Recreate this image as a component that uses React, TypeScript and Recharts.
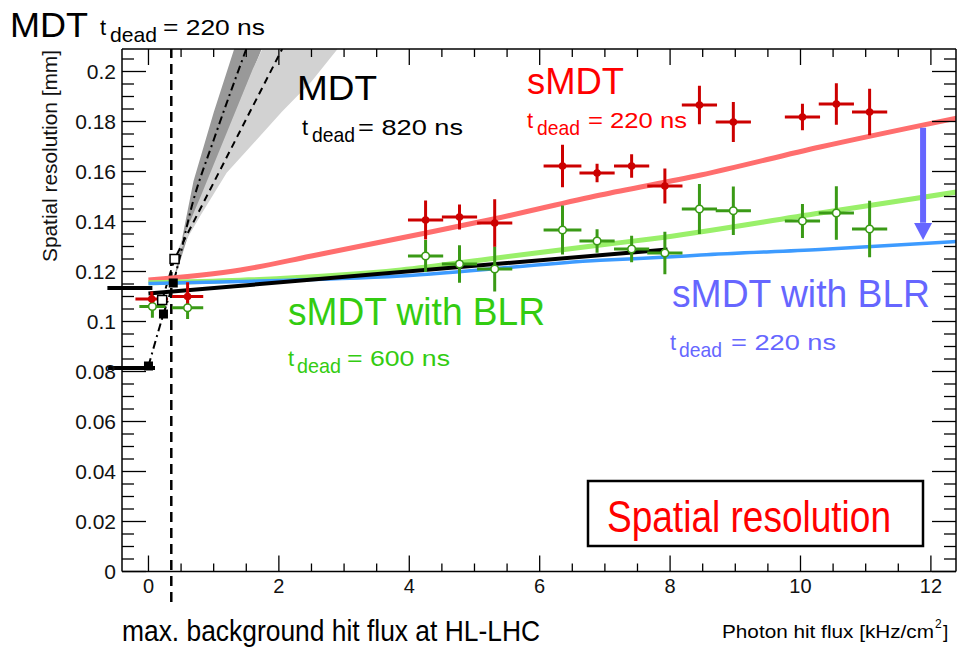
import React from "react";
import {
  ComposedChart,
  XAxis,
  YAxis,
  Line,
  Area,
  Scatter,
  ErrorBar,
  ReferenceLine,
  ReferenceDot,
} from "recharts";

const FONT = "'Liberation Sans', Arial, Helvetica, sans-serif";

// axis ticks
const xTicks = [0, 0.5, 1, 1.5, 2, 2.5, 3, 3.5, 4, 4.5, 5, 5.5, 6, 6.5, 7, 7.5, 8, 8.5, 9, 9.5, 10, 10.5, 11, 11.5, 12];
const xMajorTicks = [0, 2, 4, 6, 8, 10, 12];
const yMajorTicks = [0, 0.02, 0.04, 0.06, 0.08, 0.1, 0.12, 0.14, 0.16, 0.18, 0.2];
const yTicks = yMajorTicks.flatMap((v) => [v, v + 0.005, v + 0.01, v + 0.015]).filter((v) => v < 0.209);

// sMDT (t_dead = 220 ns) measurements
const smdtX = [0.05, 0.6, 4.25, 4.77, 5.31, 6.35, 6.88, 7.41, 7.92, 8.45, 8.97, 10.03, 10.55, 11.06];
const smdtY = [0.109, 0.11, 0.1406, 0.1418, 0.1394, 0.1622, 0.1594, 0.1622, 0.1542, 0.1866, 0.1798, 0.1818, 0.187, 0.1838];
const smdtEx = [0.25, 0.24, 0.27, 0.27, 0.27, 0.29, 0.27, 0.27, 0.27, 0.27, 0.27, 0.27, 0.27, 0.27];
const smdtEy = [0.003, 0.0057, 0.0078, 0.005, 0.0095, 0.0085, 0.0037, 0.0047, 0.007, 0.0077, 0.008, 0.0053, 0.0083, 0.0093];

// sMDT with BLR (t_dead = 600 ns) measurements
const blrX = [0.06, 0.6, 4.25, 4.77, 5.31, 6.35, 6.88, 7.41, 7.92, 8.45, 8.97, 10.03, 10.55, 11.06];
const blrY = [0.106, 0.1055, 0.1262, 0.123, 0.121, 0.1366, 0.1322, 0.129, 0.1274, 0.145, 0.1443, 0.1402, 0.1434, 0.137];
const blrEx = [0.2, 0.24, 0.27, 0.27, 0.27, 0.29, 0.27, 0.27, 0.27, 0.27, 0.27, 0.27, 0.27, 0.27];
const blrEy = [0.0045, 0.0045, 0.0064, 0.0075, 0.009, 0.0098, 0.0047, 0.0053, 0.0085, 0.01, 0.0097, 0.0068, 0.0107, 0.0113];

// simulation curves
const redCurveX = [0, 1.41, 2.5, 3.87, 5.31, 6.93, 8.47, 10.3, 12.4];
const redCurveY = [0.1166, 0.1206, 0.1262, 0.1334, 0.1411, 0.1506, 0.1586, 0.1698, 0.1814];
const greenCurveX = [0, 1.41, 3.87, 5.31, 6.93, 7.7, 10.3, 12.4];
const greenCurveY = [0.1155, 0.1165, 0.1206, 0.1253, 0.1306, 0.133, 0.1434, 0.1518];
const blueCurveX = [0, 1.41, 3.87, 6.93, 7.96, 8.47, 10.3, 12.4];
const blueCurveY = [0.1152, 0.116, 0.1182, 0.1245, 0.1258, 0.1266, 0.1288, 0.132];
const fitX = [0, 7.96];
const fitY = [0.1112, 0.1288];

// MDT extrapolations
const mdt220X = [0, 0.23, 0.38, 0.69, 1.0, 1.5];
const mdt220Y = [0.0822, 0.103, 0.1154, 0.1486, 0.1726, 0.209];
const mdt820X = [0.21, 0.4, 0.95, 1.39, 2.05];
const mdt820Y = [0.1086, 0.125, 0.153, 0.1754, 0.209];
const darkBandX = [0.38, 0.69, 1.0, 1.5, 1.8];
const darkBandLo = [0.1154, 0.1411, 0.1616, 0.194, 0.213];
const darkBandHi = [0.1154, 0.1561, 0.1836, 0.224, 0.247];
const lightBandX = [0.4, 0.8, 1.2, 1.6, 2.05, 2.5, 2.9, 3.2];
const lightBandLo = [0.1245, 0.1425, 0.1595, 0.171, 0.184, 0.196, 0.209, 0.217];
const lightBandHi = [0.1255, 0.15, 0.1755, 0.201, 0.2255, 0.245, 0.265, 0.28];
const filledSqX = [0, 0.23, 0.38];
const filledSqY = [0.0822, 0.103, 0.1154];
const openSqX = [0.21, 0.4];
const openSqY = [0.1086, 0.125];

const zip = (xs: number[], ys: number[]) => xs.map((x, i) => ({ x, y: ys[i] }));
const smdtData = smdtX.map((x, i) => ({ x, y: smdtY[i], ex: smdtEx[i], ey: smdtEy[i] }));
const blrData = blrX.map((x, i) => ({ x, y: blrY[i], ex: blrEx[i], ey: blrEy[i] }));
const darkBand = darkBandX.map((x, i) => ({ x, band: [darkBandLo[i], darkBandHi[i]] }));
const lightBand = lightBandX.map((x, i) => ({ x, band: [lightBandLo[i], lightBandHi[i]] }));

const X_DOMAIN: [number, number] = [-0.406, 12.385];
const Y_DOMAIN: [number, number] = [0, 0.209];

const isMajor = (v: number, majors: number[]) => majors.some((m) => Math.abs(m - v) < 1e-9);
const fmtY = (v: number) => String(Number(v.toFixed(3)));

const LeftTick = (p: any) => {
  const v = p.payload.value;
  const major = isMajor(v, yMajorTicks);
  return (
    <g>
      <line x1={p.x} x2={p.x + (major ? 24 : 12)} y1={p.y} y2={p.y} stroke="#000" strokeWidth={1.3} />
      {major && (
        <text x={p.x - 6} y={p.y} dy="0.36em" textAnchor="end" fontSize={21} fontFamily={FONT} fill="#111">
          {fmtY(v)}
        </text>
      )}
    </g>
  );
};

const RightTick = (p: any) => {
  const major = isMajor(p.payload.value, yMajorTicks);
  return <line x1={p.x} x2={p.x - (major ? 24 : 12)} y1={p.y} y2={p.y} stroke="#000" strokeWidth={1.3} />;
};

const BottomTick = (p: any) => {
  const v = p.payload.value;
  const major = isMajor(v, xMajorTicks);
  return (
    <g>
      <line x1={p.x} x2={p.x} y1={p.y} y2={p.y - (major ? 16 : 8)} stroke="#000" strokeWidth={1.3} />
      {major && (
        <text x={p.x} y={p.y + 21} textAnchor="middle" fontSize={20} fontFamily={FONT} fill="#111">
          {v}
        </text>
      )}
    </g>
  );
};

const TopTick = (p: any) => {
  const major = isMajor(p.payload.value, xMajorTicks);
  return <line x1={p.x} x2={p.x} y1={p.y} y2={p.y + (major ? 16 : 8)} stroke="#000" strokeWidth={1.3} />;
};

const RedDot = (p: any) => <circle cx={p.cx} cy={p.cy} r={3.8} fill="#cc0000" />;
const GreenRing = (p: any) => (
  <circle cx={p.cx} cy={p.cy} r={3.8} fill="#fff" stroke="#3a9a16" strokeWidth={1.6} />
);
const FilledSq = (p: any) => <rect x={p.cx - 4.5} y={p.cy - 4.5} width={9} height={9} fill="#000" />;
const OpenSq = (p: any) => (
  <rect x={p.cx - 4.5} y={p.cy - 4.5} width={9} height={9} fill="#fff" stroke="#000" strokeWidth={1.5} />
);
const ArrowHead = (p: any) => (
  <polygon points={`${p.cx},${p.cy} ${p.cx - 9},${p.cy - 17} ${p.cx + 9},${p.cy - 17}`} fill="#6666ff" />
);

const axisLine = { stroke: "#000", strokeWidth: 1.5 };

const TDead: React.FC<{
  x: number; dx: number; dw: number; ex: number; ew: number; base: number; color: string; value: string;
}> = ({ x, dx, dw, ex, ew, base, color, value }) => (
  <g fill={color}>
    <text x={x} y={base} fontSize={22}>t</text>
    <text x={dx} y={base + 7} fontSize={21} textLength={dw} lengthAdjust="spacingAndGlyphs">dead</text>
    <text x={ex} y={base} fontSize={22} textLength={ew} lengthAdjust="spacingAndGlyphs">{`= ${value} ns`}</text>
  </g>
);

export default function App() {
  return (
    <div style={{ position: "absolute", left: 0, top: 0, width: 957, height: 647, background: "#fff" }}>
      <ComposedChart width={957} height={647} margin={{ top: 48, right: 0, bottom: 74.5, left: 0 }}>
        <XAxis dataKey="x" type="number" domain={X_DOMAIN} allowDataOverflow ticks={xTicks} interval={0}
          height={1} tickSize={0} tickMargin={0} tickLine={false} axisLine={axisLine} tick={BottomTick} />
        <XAxis xAxisId="top" orientation="top" dataKey="x" type="number" domain={X_DOMAIN} allowDataOverflow
          ticks={xTicks} interval={0} height={1} tickSize={0} tickMargin={0} tickLine={false} axisLine={axisLine} tick={TopTick} />
        <YAxis type="number" domain={Y_DOMAIN} allowDataOverflow ticks={yTicks} interval={0} width={122}
          tickSize={0} tickMargin={0} tickLine={false} axisLine={axisLine} tick={LeftTick} />
        <YAxis yAxisId="right" orientation="right" type="number" domain={Y_DOMAIN} allowDataOverflow ticks={yTicks}
          interval={0} width={1} tickSize={0} tickMargin={0} tickLine={false} axisLine={axisLine} tick={RightTick} />

        <Area data={darkBand} dataKey="band" type="linear" stroke="none" fill="#999999" fillOpacity={1} isAnimationActive={false} />
        <Area data={lightBand} dataKey="band" type="linear" stroke="none" fill="#d2d2d2" fillOpacity={1} isAnimationActive={false} />

        <ReferenceLine segment={[{ x: 0.35, y: -0.0122 }, { x: 0.35, y: 0.209 }]} ifOverflow="visible"
          stroke="#000" strokeWidth={2.5} strokeDasharray="10 6" />
        <ReferenceLine segment={[{ x: -0.63, y: 0.1134 }, { x: 0.06, y: 0.1134 }]} ifOverflow="visible"
          stroke="#000" strokeWidth={4} />
        <ReferenceLine segment={[{ x: -0.62, y: 0.0814 }, { x: 0.1, y: 0.0814 }]} ifOverflow="visible"
          stroke="#000" strokeWidth={4} />

        <Line data={zip(mdt220X, mdt220Y)} dataKey="y" type="monotone" stroke="#000" strokeWidth={2}
          strokeDasharray="8 4 2 4" dot={false} activeDot={false} isAnimationActive={false} />
        <Line data={zip(mdt820X, mdt820Y)} dataKey="y" type="linear" stroke="#000" strokeWidth={2}
          strokeDasharray="7 5" dot={false} activeDot={false} isAnimationActive={false} />

        <Line data={zip(redCurveX, redCurveY)} dataKey="y" type="monotone" stroke="#ff6e6e" strokeWidth={5}
          dot={false} activeDot={false} isAnimationActive={false} />
        <Line data={zip(greenCurveX, greenCurveY)} dataKey="y" type="monotone" stroke="#9af06a" strokeWidth={5}
          dot={false} activeDot={false} isAnimationActive={false} />
        <Line data={zip(blueCurveX, blueCurveY)} dataKey="y" type="monotone" stroke="#3d9bff" strokeWidth={3.5}
          dot={false} activeDot={false} isAnimationActive={false} />
        <Line data={zip(fitX, fitY)} dataKey="y" type="linear" stroke="#000" strokeWidth={4}
          dot={false} activeDot={false} isAnimationActive={false} />

        <ReferenceLine segment={[{ x: 11.88, y: 0.1775 }, { x: 11.88, y: 0.1395 }]} stroke="#6666ff" strokeWidth={6} />
        <ReferenceDot x={11.88} y={0.1326} r={0} shape={ArrowHead} />

        <Scatter data={blrData} dataKey="y" shape={GreenRing} isAnimationActive={false}>
          <ErrorBar dataKey="ex" direction="x" width={0} stroke="#3a9a16" strokeWidth={3} isAnimationActive={false} />
          <ErrorBar dataKey="ey" direction="y" width={0} stroke="#3a9a16" strokeWidth={3} isAnimationActive={false} />
        </Scatter>
        <Scatter data={smdtData} dataKey="y" shape={RedDot} isAnimationActive={false}>
          <ErrorBar dataKey="ex" direction="x" width={0} stroke="#cc0000" strokeWidth={3} isAnimationActive={false} />
          <ErrorBar dataKey="ey" direction="y" width={0} stroke="#cc0000" strokeWidth={3} isAnimationActive={false} />
        </Scatter>
        <Scatter data={zip(filledSqX, filledSqY)} dataKey="y" shape={FilledSq} isAnimationActive={false} />
        <Scatter data={zip(openSqX, openSqY)} dataKey="y" shape={OpenSq} isAnimationActive={false} />
      </ComposedChart>

      <svg width={957} height={647} style={{ position: "absolute", left: 0, top: 0, pointerEvents: "none" }}
        fontFamily={FONT}>
        <text x={57} y={50} transform="rotate(-90 57 50)" textAnchor="end" fontSize={21} fill="#111"
          textLength={212} lengthAdjust="spacingAndGlyphs">Spatial resolution [mm]</text>

        <text x={10} y={37} fontSize={35} textLength={78} lengthAdjust="spacingAndGlyphs">MDT</text>
        <TDead x={100} dx={110} dw={47} ex={163} ew={102} base={35} color="#000" value="220" />

        <text x={297} y={100} fontSize={35} textLength={80} lengthAdjust="spacingAndGlyphs">MDT</text>
        <TDead x={302} dx={312} dw={43} ex={358} ew={105} base={135} color="#000" value="820" />

        <text x={527} y={94} fontSize={37} fill="#ff0000" textLength={97} lengthAdjust="spacingAndGlyphs">sMDT</text>
        <TDead x={527} dx={537} dw={43} ex={588} ew={99} base={128} color="#ff0000" value="220" />

        <text x={288} y={325} fontSize={38} fill="#33cc11" textLength={257} lengthAdjust="spacingAndGlyphs">sMDT with BLR</text>
        <TDead x={288} dx={297} dw={44} ex={347} ew={103} base={366} color="#33cc11" value="600" />

        <text x={672} y={307} fontSize={38} fill="#6666ff" textLength={258} lengthAdjust="spacingAndGlyphs">sMDT with BLR</text>
        <TDead x={670} dx={679} dw={43} ex={731} ew={105} base={350} color="#6666ff" value="220" />

        <rect x={588} y={481} width={335} height={65} fill="#fff" stroke="#000" strokeWidth={2.5} />
        <text x={607} y={532} fontSize={44} fill="#ff0000" textLength={284} lengthAdjust="spacingAndGlyphs">Spatial resolution</text>

        <text x={122} y={641} fontSize={30} textLength={418} lengthAdjust="spacingAndGlyphs">max. background hit flux at HL-LHC</text>

        <text x={722} y={638} fontSize={19} textLength={212} lengthAdjust="spacingAndGlyphs">Photon hit flux [kHz/cm</text>
        <text x={935} y={628} fontSize={12}>2</text>
        <text x={943} y={638} fontSize={19}>]</text>
      </svg>
    </div>
  );
}
